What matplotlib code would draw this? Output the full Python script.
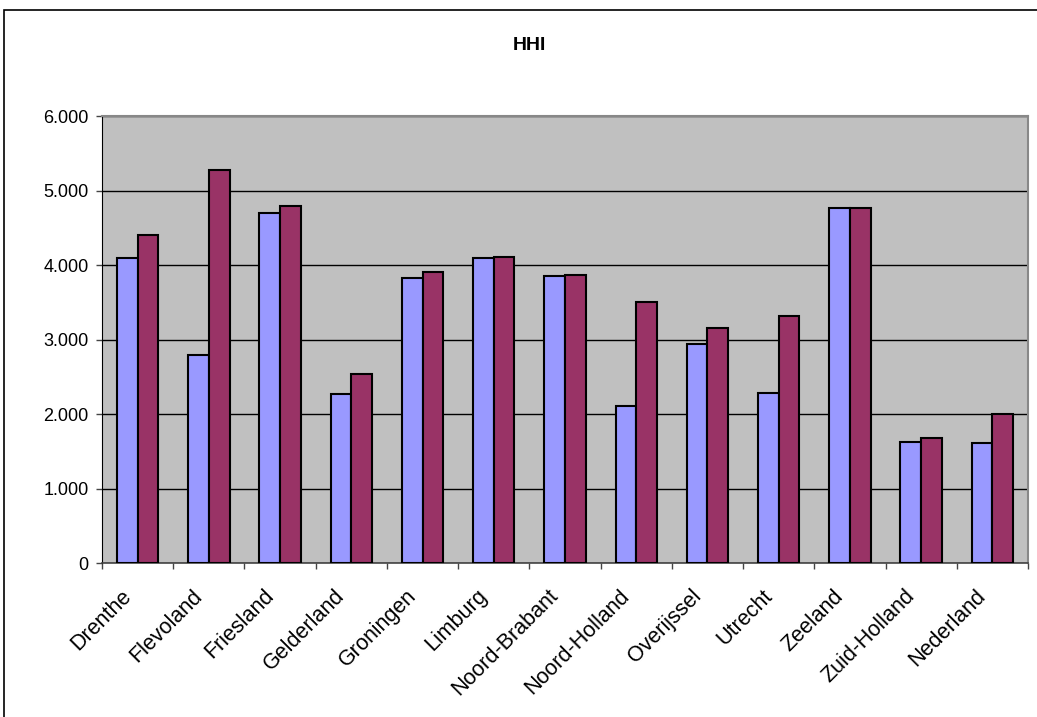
import matplotlib
matplotlib.use('Agg')
import matplotlib.pyplot as plt
import matplotlib.transforms as mtransforms
from matplotlib.ticker import FuncFormatter
from matplotlib.patches import Rectangle
import numpy as np

plt.rcParams['font.family'] = ['Liberation Sans', 'DejaVu Sans']

provincies = ['Drenthe', 'Flevoland', 'Friesland', 'Gelderland', 'Groningen',
              'Limburg', 'Noord-Brabant', 'Noord-Holland', 'Overijssel',
              'Utrecht', 'Zeeland', 'Zuid-Holland', 'Nederland']
hhi_1 = [4090, 2800, 4700, 2270, 3830, 4100, 3860, 2110, 2940, 2280, 4760, 1627, 1610]
hhi_2 = [4400, 5270, 4790, 2535, 3910, 4110, 3870, 3500, 3150, 3320, 4770, 1685, 2000]

fig = plt.figure(figsize=(10.37, 7.17), dpi=100)
ax = fig.add_axes([0.0984, 0.2144, 0.8929, 0.6238])

# kader rond de grafiek
fig.patches.append(Rectangle((4/1037, -0.1), 1.2, 1 - 10/717 + 0.1,
                             transform=fig.transFigure, fill=False,
                             edgecolor='black', linewidth=1.2))

x = np.arange(len(provincies))
w = 0.29
ax.bar(x - w/2, hhi_1, w, color='#9999FF', edgecolor='black', linewidth=1.5, zorder=3)
ax.bar(x + w/2, hhi_2, w, color='#993366', edgecolor='black', linewidth=1.5, zorder=3)

ax.set_facecolor('#C0C0C0')
ax.set_xlim(-0.5, len(provincies) - 0.5)
ax.set_ylim(0, 6000)
ax.set_yticks(range(0, 6001, 1000))
ax.yaxis.set_major_formatter(FuncFormatter(lambda v, p: '{:,.0f}'.format(v).replace(',', '.')))
ax.yaxis.grid(True, color='black', linewidth=1, zorder=1)
ax.set_axisbelow(True)

ax.set_xticks(np.arange(len(provincies) + 1) - 0.5)
ax.set_xticklabels([])
ax.set_xticks(x, minor=True)
ax.set_xticklabels(provincies, minor=True, rotation=45, ha='right',
                   rotation_mode='anchor', fontsize=15.5)
ax.tick_params(axis='x', which='minor', length=0, pad=16)
ax.tick_params(axis='x', which='major', length=4.5, width=1, color='#444444', direction='out')
ax.tick_params(axis='y', length=4.5, width=1, color='#444444', labelsize=13, pad=5)

offset = mtransforms.ScaledTranslation(-17/100, 0, fig.dpi_scale_trans)
for lbl in ax.xaxis.get_minorticklabels():
    lbl.set_transform(lbl.get_transform() + offset)

for s in ['top', 'right']:
    ax.spines[s].set_color('#888888')
    ax.spines[s].set_linewidth(1.5)
ax.spines['left'].set_color('black')
ax.spines['bottom'].set_color('#444444')
ax.spines['bottom'].set_linewidth(1.2)

fig.text(529/1037, 1 - 45/717, 'HHI', ha='center', va='center',
         fontsize=14, fontweight='bold')

plt.savefig('out.png', dpi=100)
